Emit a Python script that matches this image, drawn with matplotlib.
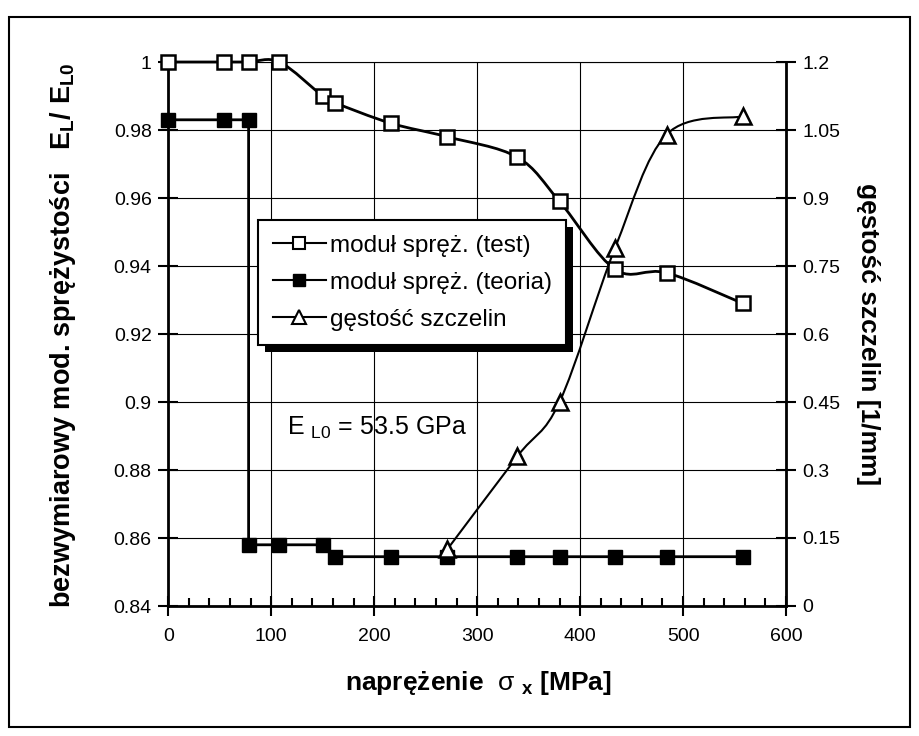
import matplotlib
matplotlib.use('Agg')
import matplotlib.pyplot as plt
from matplotlib.path import Path
from matplotlib.patches import PathPatch, Rectangle
from matplotlib.lines import Line2D
from matplotlib.ticker import FormatStrFormatter, MultipleLocator
from matplotlib.transforms import IdentityTransform
import numpy as np

plt.rcParams['font.family'] = ['Liberation Sans', 'DejaVu Sans']
plt.rcParams['mathtext.fontset'] = 'custom'
plt.rcParams['mathtext.rm'] = 'Liberation Sans'
plt.rcParams['mathtext.bf'] = 'Liberation Sans:bold'
plt.rcParams['mathtext.it'] = 'Liberation Sans:italic'
plt.rcParams['mathtext.default'] = 'regular'

# stress [MPa]
test_x = [0, 54, 78, 108, 150, 162, 216, 271, 339, 380, 434, 484, 558]
test_y = [1.0, 1.0, 1.0, 1.0, 0.990, 0.988, 0.982, 0.978, 0.972, 0.959, 0.939, 0.938, 0.929]

theory_x = [0, 54, 78, 78, 108, 150, 162, 216, 271, 339, 380, 434, 484, 558]
theory_y = [0.983, 0.983, 0.983, 0.858, 0.858, 0.858, 0.8545, 0.8545, 0.8545,
            0.8545, 0.8545, 0.8545, 0.8545, 0.8545]

crack_x = [271, 339, 380, 434, 484, 558]
crack_y = [0.125, 0.33, 0.45, 0.79, 1.04, 1.08]

labels = ["moduł spręż. (test)", "moduł spręż. (teoria)", "gęstość szczelin"]


def smooth_path(xs, ys):
    # excel-like smoothed line: bezier segments with catmull-rom control points
    pts = np.column_stack([xs, ys]).astype(float)
    n = len(pts)
    verts = [pts[0]]
    codes = [Path.MOVETO]
    for i in range(n - 1):
        p0 = pts[max(i - 1, 0)]
        p1 = pts[i]
        p2 = pts[i + 1]
        p3 = pts[min(i + 2, n - 1)]
        verts += [p1 + (p2 - p0) / 6.0, p2 - (p3 - p1) / 6.0, p2]
        codes += [Path.CURVE4] * 3
    return Path(verts, codes)


fig = plt.figure(figsize=(9.19, 7.36), dpi=100)
ax = fig.add_axes([168.3 / 919, 1 - 606 / 736, (786 - 168.3) / 919, (606 - 62) / 736])
ax2 = ax.twinx()

ax.set_xlim(0, 600)
ax.set_ylim(0.84, 1.0)
ax2.set_ylim(0, 1.2)

ax.xaxis.set_major_locator(MultipleLocator(100))
ax.xaxis.set_minor_locator(MultipleLocator(20))
ax.yaxis.set_major_locator(MultipleLocator(0.02))
ax2.yaxis.set_major_locator(MultipleLocator(0.15))
ax.yaxis.set_major_formatter(FormatStrFormatter('%g'))
ax2.yaxis.set_major_formatter(FormatStrFormatter('%g'))

ax.grid(True, which='major', color='black', lw=0.8)
ax.set_axisbelow(True)

for s in ['left', 'bottom']:
    ax.spines[s].set_linewidth(2)
ax.spines['top'].set_linewidth(0.8)
ax.spines['right'].set_visible(False)
for s in ['left', 'top', 'bottom']:
    ax2.spines[s].set_visible(False)
ax2.spines['right'].set_linewidth(2)

ax.tick_params(axis='both', which='major', direction='inout', length=14, width=1.5,
               labelsize=14, pad=5)
ax.tick_params(axis='x', which='major', pad=9)
ax.tick_params(axis='x', which='minor', direction='in', length=6, width=1.5)
ax2.tick_params(axis='y', direction='inout', length=14, width=1.5, labelsize=14, pad=5)

# lines
ax.plot(theory_x, theory_y, color='black', lw=2, marker='s', ms=10,
        mfc='black', mec='black', clip_on=False, zorder=3)
ax.add_patch(PathPatch(smooth_path(test_x, test_y), fill=False, ec='black', lw=2,
                       clip_on=False, zorder=3))
ax.plot(test_x, test_y, ls='none', marker='s', ms=10, mfc='white', mec='black',
        mew=1.8, clip_on=False, zorder=4)
ax2.add_patch(PathPatch(smooth_path(crack_x, crack_y), fill=False, ec='black', lw=1.5,
                        clip_on=False, zorder=3))
ax2.plot(crack_x, crack_y, ls='none', marker='^', ms=11, mfc='white', mec='black',
         mew=1.8, clip_on=False, zorder=4)

ax.text(115, 0.8924, r'E $_{\mathrm{L0}}$ = 53.5 GPa', fontsize=18, va='center')

handles = [
    Line2D([], [], color='black', lw=1.5, marker='s', ms=9, mfc='white', mec='black', mew=1.5),
    Line2D([], [], color='black', lw=1.5, marker='s', ms=9, mfc='black', mec='black'),
    Line2D([], [], color='black', lw=1.5, marker='^', ms=10, mfc='white', mec='black', mew=1.5),
]
leg = fig.legend(handles, labels, loc='upper left', bbox_to_anchor=(258 / 919, 1 - 220 / 736),
                 frameon=True, fancybox=False, edgecolor='black', framealpha=1,
                 fontsize=17.5, handlelength=2.2, handletextpad=0.15, borderpad=0.6,
                 labelspacing=0.62, borderaxespad=0)
leg.get_frame().set_linewidth(1.5)

# axis titles
fig.text(63 / 919, 1 - 335 / 736, r'bezwymiarowy mod. sprężystości   E$_\mathbf{L}$/ E$_\mathbf{L0}$',
         rotation=90, fontsize=19.5, fontweight='bold', ha='center', va='center')
fig.text(478 / 919, 1 - 683 / 736, r'naprężenie  $\mathrm{\sigma}$ $_\mathbf{x}$ [MPa]',
         fontsize=19, fontweight='bold', ha='center', va='center')
fig.text(868 / 919, 1 - 334 / 736, 'gęstość szczelin [1/mm]', rotation=270,
         fontsize=19, fontweight='bold', ha='center', va='center')

# outer frame
fig.patches.append(Rectangle((9 / 919, 1 - 727 / 736), 901 / 919, 710 / 736,
                             transform=fig.transFigure, fill=False, ec='black', lw=1.5))

# legend shadow
fig.canvas.draw()
bb = leg.get_window_extent()
fig.patches.append(Rectangle((bb.x0 + 7, bb.y0 - 7), bb.width, bb.height,
                             transform=IdentityTransform(), fc='black', ec='none', zorder=4))

fig.savefig('out.png', dpi=100)
